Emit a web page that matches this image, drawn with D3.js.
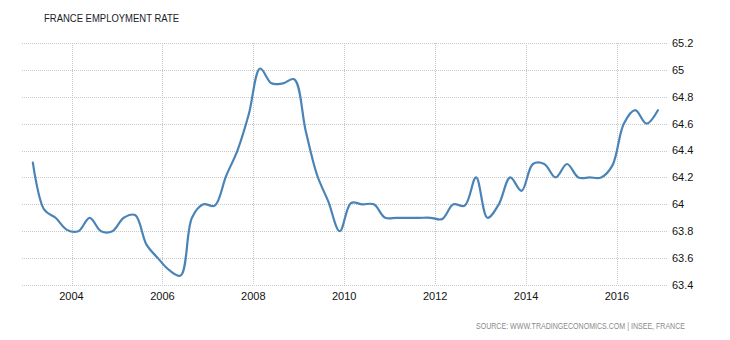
<!DOCTYPE html>
<html><head><meta charset="utf-8">
<script src="https://cdn.jsdelivr.net/npm/d3@7"></script>
<style>body{margin:0;background:#fff;} svg{display:block;}</style>
</head><body>
<svg id="c" width="730" height="340"></svg>
<script>
const title = "FRANCE EMPLOYMENT RATE";
const source = "SOURCE: WWW.TRADINGECONOMICS.COM | INSEE, FRANCE";
const startYear = 2003;
const quarterValues = [
  64.31, 63.96, 63.9, 63.81, 63.8, 63.9, 63.8, 63.8, 63.9, 63.92,
  63.7, 63.6, 63.51, 63.47, 63.9, 64.0, 63.99, 64.21, 64.4, 64.67,
  65.01, 64.9, 64.9, 64.93, 64.55, 64.22, 64.02, 63.8, 64.01, 64.0,
  64.0, 63.9, 63.9, 63.9, 63.9, 63.9, 63.89, 64.0, 63.99, 64.2,
  63.9, 64.0, 64.2, 64.1, 64.3, 64.3, 64.2, 64.3, 64.2, 64.2,
  64.2, 64.29, 64.6, 64.7, 64.6, 64.7
];
const xTicks = [2004, 2006, 2008, 2010, 2012, 2014, 2016];
const yTicks = [63.4, 63.6, 63.8, 64, 64.2, 64.4, 64.6, 64.8, 65, 65.2];

(function () {
  const data = quarterValues.map((v, i) => ({t: startYear + 0.15 + i * 0.25, v}));

  const svg = d3.select("#c");
  const pL = 22, pR = 668, pT = 43, pB = 285;
  const pxPerYear = (617 - 71.5) / 12;
  const x = d3.scaleLinear()
    .domain([2004 - (71.5 - pL) / pxPerYear, 2004 + (pR - 71.5) / pxPerYear])
    .range([pL, pR]);
  const y = d3.scaleLinear().domain([63.4, 65.2]).range([pB, pT]);

  const grid = svg.append("g").attr("stroke", "#c8c8c8").attr("stroke-dasharray", "1,1").attr("stroke-width", 1);
  yTicks.forEach(t => {
    const yy = Math.round(y(t)) + 0.5;
    grid.append("line").attr("x1", pL).attr("x2", pR).attr("y1", yy).attr("y2", yy);
  });
  xTicks.forEach(t => {
    const xx = Math.round(x(t)) + 0.5;
    grid.append("line").attr("x1", xx).attr("x2", xx).attr("y1", pT).attr("y2", pB);
  });

  const font = "'Liberation Sans', Arial, sans-serif";
  svg.append("g").selectAll("text").data(yTicks).join("text")
    .attr("x", 672).attr("y", d => y(d)).attr("dy", "0.35em")
    .attr("font-family", font).attr("font-size", 11).attr("fill", "#111")
    .text(d => d3.format("")(d));
  svg.append("g").selectAll("text").data(xTicks).join("text")
    .attr("x", d => x(d)).attr("y", 300).attr("text-anchor", "middle")
    .attr("font-family", font).attr("font-size", 11).attr("fill", "#111")
    .text(d => d);

  const line = d3.line().x(d => x(d.t)).y(d => y(d.v)).curve(d3.curveCatmullRom.alpha(0.5));
  svg.append("path").datum(data).attr("d", line)
    .attr("fill", "none").attr("stroke", "#4a84b7").attr("stroke-width", 2.2)
    .attr("stroke-linejoin", "round").attr("stroke-linecap", "round");

  svg.append("text").attr("x", 44).attr("y", 22)
    .attr("font-family", font).attr("font-size", 11).attr("fill", "#1a1a2a")
    .attr("textLength", 135).attr("lengthAdjust", "spacingAndGlyphs")
    .text(title);
  svg.append("text").attr("x", 476).attr("y", 329)
    .attr("font-family", font).attr("font-size", 8.5).attr("fill", "#8a8a8a")
    .attr("textLength", 209).attr("lengthAdjust", "spacingAndGlyphs")
    .text(source);
})();
</script>
</body></html>
